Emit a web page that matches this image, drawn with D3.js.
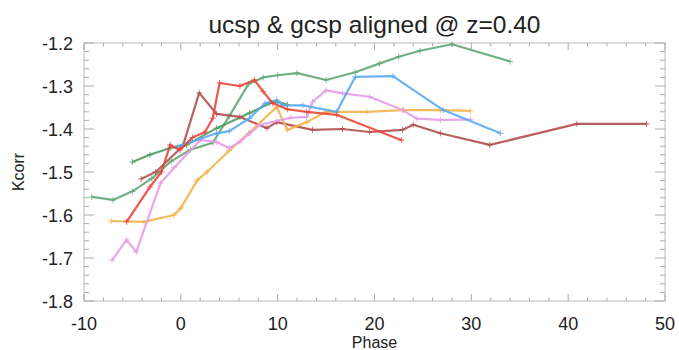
<!DOCTYPE html>
<html>
<head>
<meta charset="utf-8">
<script src="https://cdn.jsdelivr.net/npm/d3@7"></script>
<style>
  body { margin: 0; background: #fff; }
  svg { font-family: "Liberation Sans", Arial, sans-serif; }
</style>
</head>
<body>
<div id="chart"></div>
<script>
// Datos (fase, kcorr)
const greenA = [[-9.2,-1.558],[-7,-1.565],[-5,-1.545],[-3,-1.515],[-1,-1.475],[1,-1.448],[3.3,-1.432],[5,-1.37],[7,-1.295],[8.5,-1.28],[10,-1.275],[12,-1.27],[15,-1.286],[18,-1.268],[20.5,-1.248],[22.5,-1.232],[24.7,-1.218],[28,-1.203],[34,-1.243]];
const greenB = [[-5,-1.477],[-3.2,-1.46],[-1.1,-1.444],[0.6,-1.437],[3.7,-1.398],[7.1,-1.363],[9.2,-1.34],[10,-1.337],[11,-1.343]];
const brown = [[-4.1,-1.516],[-2.6,-1.5],[0.2,-1.44],[1.9,-1.316],[3.7,-1.365],[6.1,-1.372],[8.9,-1.398],[9.9,-1.384],[13.6,-1.402],[16.7,-1.4],[19.5,-1.407],[22.9,-1.402],[24,-1.39],[26.8,-1.41],[31.9,-1.437],[40.9,-1.388],[48.1,-1.388]];
const red = [[-5.6,-1.616],[-3.2,-1.535],[-2,-1.5],[-1.1,-1.437],[-0.1,-1.449],[1.2,-1.42],[2.5,-1.407],[3.3,-1.375],[4,-1.293],[6.1,-1.3],[7.6,-1.286],[8.5,-1.313],[9.5,-1.34],[11,-1.354],[13,-1.36],[16.1,-1.367],[22.8,-1.426]];
const pink = [[-7.1,-1.705],[-5.6,-1.658],[-4.6,-1.686],[-2.1,-1.526],[-0.7,-1.49],[2,-1.426],[3.7,-1.43],[5,-1.444],[6.1,-1.43],[7.1,-1.41],[8.2,-1.39],[11.3,-1.374],[13,-1.372],[13.6,-1.337],[15,-1.31],[16.7,-1.317],[19.5,-1.325],[22.9,-1.356],[24.4,-1.376],[26.8,-1.379],[29.9,-1.378]];
const orange = [[-7.2,-1.614],[-3.8,-1.616],[-0.7,-1.6],[0,-1.584],[1.7,-1.519],[2.7,-1.5],[5,-1.45],[7,-1.41],[9.9,-1.349],[11,-1.402],[13,-1.384],[15,-1.36],[19.2,-1.36],[23,-1.356],[26.8,-1.356],[29.9,-1.358]];
const blue = [[-0.3,-1.44],[0.2,-1.437],[3.7,-1.41],[5,-1.405],[7.1,-1.375],[8.7,-1.34],[9.9,-1.333],[10.5,-1.345],[12.6,-1.345],[16.1,-1.36],[18,-1.279],[21.9,-1.277],[27.1,-1.356],[33,-1.41]];

const series = [
  { data: greenA, color: '#62a873' },
  { data: greenB, color: '#4f9a63' },
  { data: brown, color: '#b0504c' },
  { data: orange, color: '#f3b24a' },
  { data: pink, color: '#e79ce6' },
  { data: blue, color: '#5aabef' },
  { data: red, color: '#e8463c' }
];

const xTicks = [-10, 0, 10, 20, 30, 40, 50];
const yTicks = [-1.8, -1.7, -1.6, -1.5, -1.4, -1.3, -1.2];

const width = 679, height = 350;
const margin = { t: 43, r: 14, b: 49, l: 84 };

const svg = d3.select('#chart').append('svg')
  .attr('width', width).attr('height', height);

const x = d3.scaleLinear().domain([-10, 50]).range([margin.l, width - margin.r]);
const y = d3.scaleLinear().domain([-1.8, -1.2]).range([height - margin.b, margin.t]);

const x0 = margin.l, x1 = width - margin.r, y0 = height - margin.b, y1 = margin.t;
const tickColor = '#aaa';

// Marco
svg.append('rect')
  .attr('x', x0).attr('y', y1)
  .attr('width', x1 - x0).attr('height', y0 - y1)
  .attr('fill', 'none').attr('stroke', '#bbb').attr('stroke-width', 1);

// Ticks menores y mayores (hacia dentro, en los cuatro lados)
const xMinor = d3.range(-10, 50.01, 2);
const yMinor = d3.range(-1.8, -1.199, 0.02);
const g = svg.append('g').attr('stroke', tickColor).attr('stroke-width', 1);

xMinor.forEach(v => {
  const major = xTicks.some(t => Math.abs(t - v) < 1e-6);
  const len = major ? 7 : 3.5;
  g.append('line').attr('x1', x(v)).attr('x2', x(v)).attr('y1', y0).attr('y2', y0 - len);
  g.append('line').attr('x1', x(v)).attr('x2', x(v)).attr('y1', y1).attr('y2', y1 + len);
});
yMinor.forEach(v => {
  const major = yTicks.some(t => Math.abs(t - v) < 1e-6);
  const len = major ? 10 : 5;
  g.append('line').attr('y1', y(v)).attr('y2', y(v)).attr('x1', x0).attr('x2', x0 + len);
  g.append('line').attr('y1', y(v)).attr('y2', y(v)).attr('x1', x1).attr('x2', x1 - len);
});

// Etiquetas de los ejes
svg.append('g').selectAll('text').data(xTicks).enter().append('text')
  .attr('x', d => x(d)).attr('y', y0 + 29)
  .attr('text-anchor', 'middle').attr('font-size', 18).attr('fill', '#222')
  .text(d => d);

svg.append('g').selectAll('text').data(yTicks).enter().append('text')
  .attr('x', x0 - 11).attr('y', d => y(d) + 7)
  .attr('text-anchor', 'end').attr('font-size', 18).attr('fill', '#222')
  .text(d => d.toFixed(1));

svg.append('text')
  .attr('x', (x0 + x1) / 2).attr('y', height - 2)
  .attr('text-anchor', 'middle').attr('font-size', 16).attr('fill', '#222')
  .text('Phase');

svg.append('text')
  .attr('transform', `translate(24,${(y0 + y1) / 2}) rotate(-90)`)
  .attr('text-anchor', 'middle').attr('font-size', 16).attr('fill', '#222')
  .text('Kcorr');

svg.append('text')
  .attr('x', (x0 + x1) / 2).attr('y', 33)
  .attr('text-anchor', 'middle').attr('font-size', 24.5).attr('fill', '#222')
  .text('ucsp & gcsp aligned @ z=0.40');

// Lineas
const line = d3.line().x(d => x(d[0])).y(d => y(d[1]));

series.forEach(s => {
  svg.append('path')
    .datum(s.data)
    .attr('d', line)
    .attr('fill', 'none')
    .attr('stroke', s.color)
    .attr('stroke-width', 2.2)
    .attr('stroke-linejoin', 'round')
    .attr('opacity', 0.9);

  // marcadores "+"
  svg.append('g').selectAll('path')
    .data(s.data).enter().append('path')
    .attr('d', d => `M${x(d[0]) - 3},${y(d[1])}h6M${x(d[0])},${y(d[1]) - 3}v6`)
    .attr('stroke', s.color)
    .attr('stroke-width', 1)
    .attr('opacity', 0.8);
});
</script>
</body>
</html>
